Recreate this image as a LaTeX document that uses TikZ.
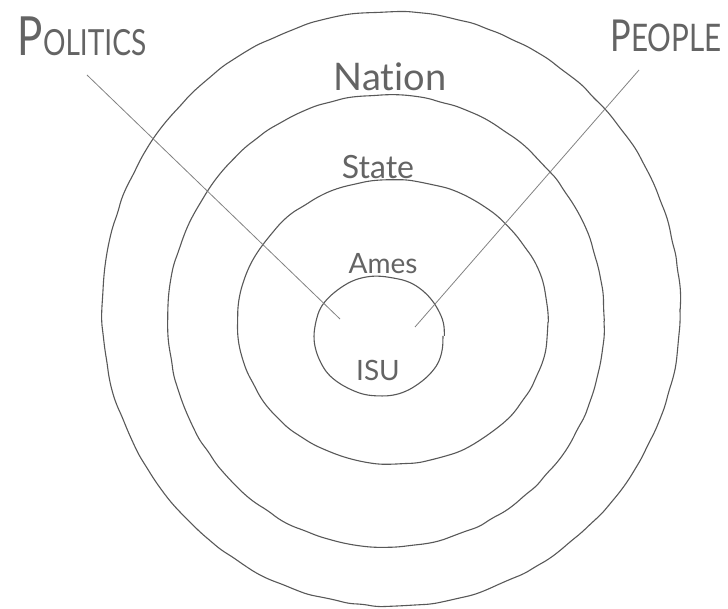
\documentclass[tikz,border=0pt]{standalone}
\usepackage{fontspec}
\setmainfont{Lato}[Ligatures={NoCommon,NoRare}]
\usetikzlibrary{decorations.pathmorphing}

\definecolor{pencil}{RGB}{88,88,88}
\definecolor{lightpencil}{RGB}{130,130,130}
\definecolor{inkword}{RGB}{100,100,100}

\tikzset{
    ring/.style={draw=pencil, line width=1.1pt, decorate,
        decoration={random steps, segment length=14pt, amplitude=0.8pt},
        rounded corners=6pt},
    pointer/.style={draw=lightpencil, line width=0.8pt},
    word/.style={text=inkword, inner sep=0pt}
}

\newcommand{\wsize}[1]{\fontsize{#1}{#1}\selectfont}

\begin{document}
\begin{tikzpicture}[x=1pt, y=-1pt]

    % --- 1. 枠 ---
    \useasboundingbox (0,0) rectangle (728,609);
    \pgfmathsetseed{7}

    % --- 2. 同心円 ---
    \foreach \nm/\cx/\cy/\rx/\ry in {outer/391/309/289/297,
        nation/386/321/218/226, state/393/322/155/142, ames/379/336/64/59} {
        \draw[ring] (\cx,\cy) ellipse [x radius=\rx, y radius=\ry];
    }

    % --- 3. 円のラベル ---
    \node[word] (nation) at (390,77) {\wsize{38}Nation};
    \node[word] (state)  at (378,167) {\wsize{32}State};
    \node[word] (ames)   at (383,264) {\wsize{28}Ames};
    \node[word] (isu)    at (378,370) {\wsize{28}ISU};

    % --- 4. 外側のラベル ---
    \node[word] (politics) at (82,36)
        {\scalebox{0.78}[1]{\wsize{54}P\wsize{36}OLITICS}};
    \node[word] (people) at (666,36)
        {\scalebox{0.78}[1]{\wsize{44}P\wsize{38}EOPLE}};

    % --- 5. 引き出し線 ---
    \coordinate (pol-a) at (87,75);
    \coordinate (pol-b) at (340,319);
    \coordinate (peo-a) at (639,70);
    \coordinate (peo-b) at (415,327);
    \draw[pointer] (pol-a) -- (pol-b);
    \draw[pointer] (peo-a) -- (peo-b);

\end{tikzpicture}
\end{document}
